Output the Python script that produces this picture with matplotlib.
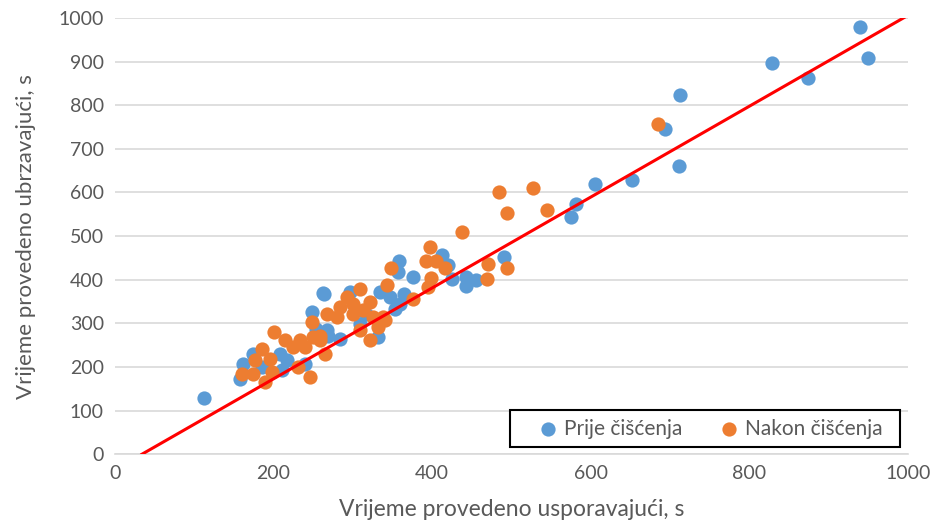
import matplotlib
matplotlib.use("Agg")
import matplotlib.pyplot as plt
from matplotlib.patches import Rectangle

# Prije čišćenja (blue)
prije_x = [939, 950, 828, 874, 712, 694, 711, 652, 606, 582, 575, 491, 443, 443, 455,
           412, 420, 425, 376, 358, 357, 334, 347, 364, 359, 353, 332, 309, 296, 263,
           267, 284, 317, 262, 248, 254, 269, 208, 217, 240, 210, 174, 162, 158, 185, 112]
prije_y = [979, 908, 898, 862, 823, 746, 661, 629, 619, 574, 544, 453, 406, 385, 400,
           456, 433, 402, 406, 444, 417, 372, 360, 368, 345, 334, 268, 299, 372, 368,
           284, 265, 322, 370, 326, 288, 272, 230, 215, 207, 192, 230, 207, 173, 200, 128]

# Nakon čišćenja (orange)
nakon_x = [685, 527, 545, 495, 484, 438, 471, 495, 469, 397, 392, 405, 416, 399, 395,
           348, 343, 376, 338, 340, 332, 322, 309, 309, 292, 300, 322, 313, 300, 284,
           267, 280, 258, 325, 248, 250, 258, 265, 233, 225, 240, 200, 214, 231, 246,
           185, 177, 195, 160, 189, 174, 198]
nakon_y = [757, 610, 560, 552, 600, 510, 437, 428, 401, 474, 444, 442, 428, 405, 383,
           427, 389, 356, 314, 307, 291, 261, 284, 379, 360, 345, 349, 330, 322, 337,
           322, 314, 272, 314, 303, 268, 261, 230, 261, 245, 245, 280, 261, 200, 177,
           242, 215, 219, 184, 165, 184, 188]

# red reference line
line_x = [34, 1000]
line_y = [0, 1006]

x_ticks = [0, 200, 400, 600, 800, 1000]
y_ticks = [0, 100, 200, 300, 400, 500, 600, 700, 800, 900, 1000]

plt.rcParams['font.family'] = ['Lato', 'DejaVu Sans']
text_color = "#595959"

fig = plt.figure(figsize=(9.35, 5.3), dpi=100)
ax = fig.add_axes([0.123, 0.143, 0.848, 0.823])

ax.scatter(prije_x, prije_y, s=105, color="#5B9BD5", label="Prije čišćenja", zorder=3, linewidths=0)
ax.scatter(nakon_x, nakon_y, s=105, color="#ED7D31", label="Nakon čišćenja", zorder=4, linewidths=0)
ax.plot(line_x, line_y, color="#FF0000", linewidth=2.2, zorder=5)

ax.set_xlim(0, 1000)
ax.set_ylim(0, 1000)
ax.set_xticks(x_ticks)
ax.set_yticks(y_ticks)
ax.tick_params(axis="both", length=0, labelsize=14, colors=text_color, pad=8)
ax.grid(axis="y", color="#D9D9D9", linewidth=1.2, zorder=0)
ax.set_axisbelow(True)
for s in ["top", "right", "left"]:
    ax.spines[s].set_visible(False)
ax.spines["bottom"].set_color("#D9D9D9")
ax.spines["bottom"].set_linewidth(1.2)

ax.set_xlabel("Vrijeme provedeno usporavajući, s", fontsize=16.5, color=text_color, labelpad=12)
ax.set_ylabel("Vrijeme provedeno ubrzavajući, s", fontsize=16, color=text_color, labelpad=16)

# legend box drawn separately so the entries stay centred
ax.add_patch(Rectangle((0.498, 0.016), 0.492, 0.085, transform=ax.transAxes,
                       facecolor="white", edgecolor="black", linewidth=1.5, zorder=6))
leg = ax.legend(loc="center", bbox_to_anchor=(0.744, 0.0585), ncol=2, fontsize=15,
                frameon=False, handletextpad=-0.2, markerscale=1.0, columnspacing=1.2,
                borderpad=0.2)
leg.set_zorder(7)
for t in leg.get_texts():
    t.set_color(text_color)

fig.savefig("out.png", dpi=100)
